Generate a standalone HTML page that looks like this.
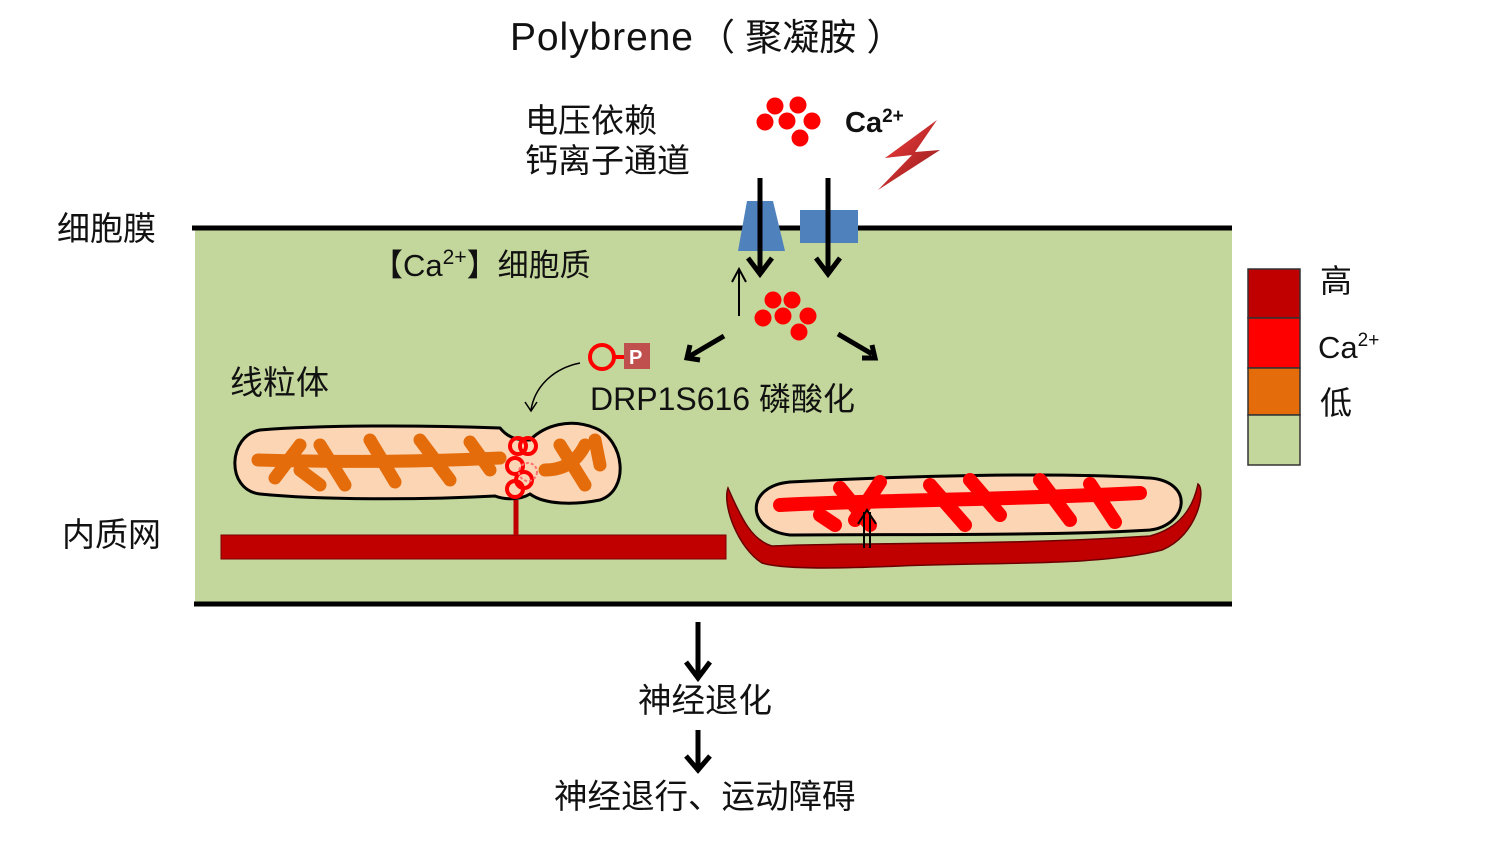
<!DOCTYPE html>
<html><head><meta charset="utf-8"><style>
body{margin:0;background:#fff;}
svg{display:block;}
text{font-family:"Liberation Sans","Noto Sans CJK SC",sans-serif;fill:#111;}
</style></head><body>
<svg width="1496" height="841" viewBox="0 0 1496 841" xmlns="http://www.w3.org/2000/svg">
<defs>
<linearGradient id="bolt" x1="0" y1="0" x2="1" y2="1"><stop offset="0" stop-color="#ff4040"/><stop offset="1" stop-color="#8a1a1a"/></linearGradient>
</defs>
<rect x="195" y="228" width="1037" height="376" fill="#c3d69b"/>
<line x1="192" y1="228" x2="1232" y2="228" stroke="#000" stroke-width="5"/>
<line x1="194" y1="604" x2="1232" y2="604" stroke="#000" stroke-width="5"/>

<text x="510" y="50" font-size="39" textLength="183">Polybrene</text>
<text x="698" y="50" font-size="37">（ 聚凝胺 ）</text>
<text x="525" y="132" font-size="33">电压依赖</text>
<text x="525" y="172" font-size="33">钙离子通道</text>
<text x="57" y="240" font-size="33">细胞膜</text>
<text x="62" y="546" font-size="33">内质网</text>
<text x="372" y="276" font-size="31">【Ca<tspan font-size="21" dy="-12">2+</tspan><tspan dy="12">】细胞质</tspan></text>
<text x="230" y="394" font-size="33">线粒体</text>
<text x="590" y="410" font-size="32">DRP1S616 磷酸化</text>
<text x="845" y="132" font-size="29" font-weight="bold">Ca<tspan font-size="19" dy="-10">2+</tspan></text>
<text x="638" y="712" font-size="33.5">神经退化</text>
<text x="554" y="808" font-size="33.5">神经退行、运动障碍</text>

<g fill="#ff0000">
<circle cx="775" cy="106" r="8.5"/><circle cx="798" cy="105" r="8.5"/><circle cx="765" cy="122" r="8.5"/><circle cx="787" cy="121" r="8.5"/><circle cx="812" cy="121" r="8.5"/><circle cx="800" cy="138" r="8.5"/>
<circle cx="773" cy="300" r="8.5"/><circle cx="792" cy="300" r="8.5"/><circle cx="763" cy="318" r="8.5"/><circle cx="783" cy="316" r="8.5"/><circle cx="808" cy="316" r="8.5"/><circle cx="799" cy="332" r="8.5"/>
</g>
<path d="M937,120 L885,158 L912,155 L878,190 L940,150 L915,152 Z" fill="url(#bolt)"/>
<path d="M747,201 L773,201 L785,251 L738,251 Z" fill="#4f81bd"/>
<rect x="800" y="210" width="58" height="33" fill="#4f81bd"/>
<g stroke="#000" stroke-width="5" fill="none">
<line x1="760" y1="178" x2="760" y2="270"/><path d="M748,258 L760,274 L772,258"/>
<line x1="828" y1="178" x2="828" y2="270"/><path d="M816,258 L828,274 L840,258"/>
<line x1="724" y1="336" x2="690" y2="356"/><path d="M690,345 L687,358 L700,360"/>
<line x1="838" y1="334" x2="872" y2="354"/><path d="M862,358 L875,358 L872,345"/>
<line x1="698" y1="622" x2="698" y2="676"/><path d="M686,662 L698,678 L710,662"/>
<line x1="698" y1="730" x2="698" y2="768"/><path d="M686,756 L698,770 L710,756"/>
</g>
<line x1="739" y1="316" x2="739" y2="270" stroke="#000" stroke-width="2"/><path d="M732,282 L739,269 L746,282" stroke="#000" stroke-width="2" fill="none"/>

<circle cx="602" cy="357" r="12" fill="none" stroke="#ff0000" stroke-width="4"/>
<line x1="614" y1="357" x2="624" y2="357" stroke="#ff0000" stroke-width="4"/>
<rect x="624" y="343" width="26" height="26" fill="#c0504d"/>
<text x="629" y="364" font-size="20" font-weight="bold" style="fill:#fff">P</text>
<path d="M580,363 C555,368 535,385 531,410" fill="none" stroke="#000" stroke-width="1.5"/>
<path d="M525,402 L531,411 L537,402" fill="none" stroke="#000" stroke-width="1.5"/>

<rect x="221" y="535" width="505" height="24" fill="#c00000" stroke="#7a0000" stroke-width="1"/>
<line x1="516" y1="535" x2="516" y2="500" stroke="#c00000" stroke-width="5"/>
<path d="M260,430 C320,425 420,425 500,428 C510,440 520,440 530,440 C545,425 570,418 595,428 C625,440 630,490 600,500 C575,505 545,505 530,494 C520,500 505,500 495,496 C420,500 320,500 260,494 C225,490 228,435 260,430 Z" fill="#fcd5b5" stroke="#000" stroke-width="3"/>
<g stroke="#e46c0a" stroke-width="13" stroke-linecap="round" fill="none">
<path d="M258,460 C330,462 420,462 500,458"/>
<path d="M275,478 L300,445 M320,445 L345,485 M370,440 L395,482 M420,440 L450,480 M470,442 L490,470 M300,470 L320,485"/>
<path d="M545,470 C560,470 575,465 585,445 M560,445 L585,485 M595,440 L600,465"/>
</g>
<g fill="none" stroke="#ff0000" stroke-width="4">
<circle cx="518" cy="446" r="8"/><circle cx="528" cy="446" r="8"/><circle cx="515" cy="466" r="8"/><circle cx="515" cy="489" r="8"/><circle cx="524" cy="480" r="8"/>
</g>
<circle cx="528" cy="472" r="9" fill="none" stroke="#ff7070" stroke-width="2" stroke-dasharray="3,2"/>

<path d="M728,488 C742,520 752,540 772,546 C850,542 1000,546 1150,536 C1180,528 1193,508 1198,484 C1206,490 1198,535 1162,550 C1100,566 1000,562 900,566 C830,569 780,569 762,563 C738,548 722,505 728,488 Z" fill="#c00000" stroke="#6a0000" stroke-width="1.5"/>
<path d="M790,482 C900,476 1050,472 1150,478 C1195,482 1188,525 1150,530 C1050,536 900,534 790,535 C745,530 745,486 790,482 Z" fill="#fcd5b5" stroke="#000" stroke-width="3"/>
<g stroke="#ff0000" stroke-width="14" stroke-linecap="round" fill="none">
<path d="M780,505 C880,500 1000,500 1140,493"/>
<path d="M840,488 L870,525 M880,482 L855,520 M930,485 L965,525 M970,480 L1000,515 M1040,480 L1070,520 M1090,484 L1115,522 M820,515 L835,525"/>
</g>
<g stroke="#000" stroke-width="2" fill="none">
<line x1="864" y1="548" x2="864" y2="512"/><line x1="870" y1="548" x2="870" y2="512"/>
<path d="M858,524 L867,510 L876,524"/>
</g>

<rect x="1248" y="269" width="52" height="49" fill="#c00000" stroke="#333" stroke-width="1.5"/>
<rect x="1248" y="318" width="52" height="50" fill="#ff0000" stroke="#333" stroke-width="1.5"/>
<rect x="1248" y="368" width="52" height="47" fill="#e46c0a" stroke="#333" stroke-width="1.5"/>
<rect x="1248" y="415" width="52" height="50" fill="#c3d69b" stroke="#333" stroke-width="1.5"/>
<text x="1320" y="292" font-size="32">高</text>
<text x="1318" y="358" font-size="31">Ca<tspan font-size="19" dy="-12">2+</tspan></text>
<text x="1320" y="414" font-size="32">低</text>
</svg>
</body></html>
